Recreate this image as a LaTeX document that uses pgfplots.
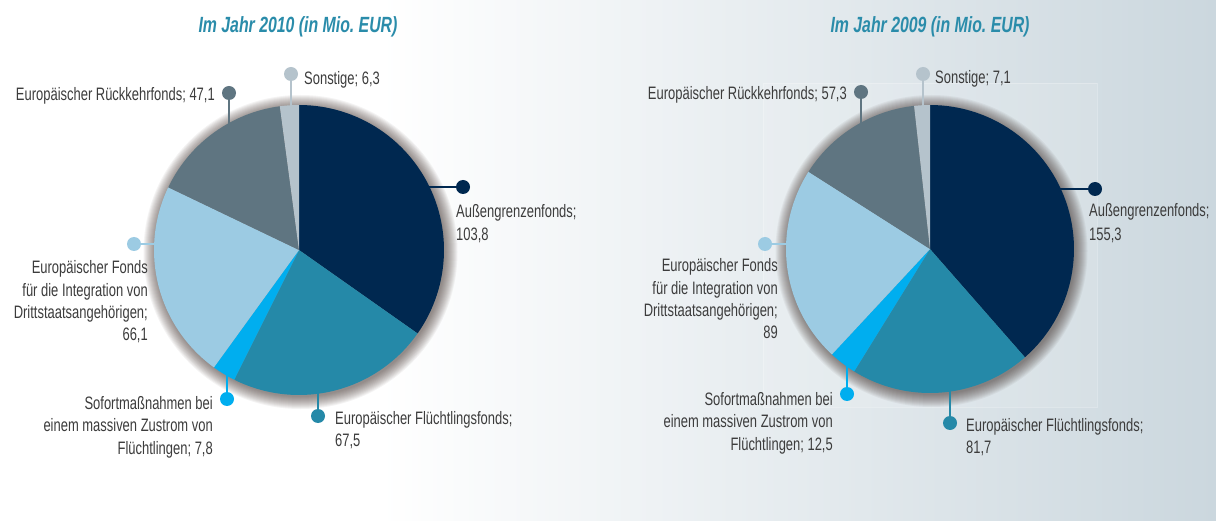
\documentclass[border=0pt]{standalone}
\usepackage{fontspec}
\setmainfont{Liberation Sans}[FakeStretch=0.72]
\usepackage{pgfplots}
\pgfplotsset{compat=1.18}

\definecolor{cA}{RGB}{0,40,80}      % Aussengrenzenfonds
\definecolor{cB}{RGB}{37,137,168}   % Fluechtlingsfonds
\definecolor{cC}{RGB}{0,174,239}    % Sofortmassnahmen
\definecolor{cD}{RGB}{156,203,227}  % Integration
\definecolor{cE}{RGB}{95,117,129}   % Rueckkehrfonds
\definecolor{cF}{RGB}{181,195,204}  % Sonstige
\definecolor{titlec}{RGB}{42,140,170}
\definecolor{txt}{RGB}{60,60,60}
\definecolor{bgR}{RGB}{203,215,222}
\definecolor{shd}{RGB}{60,45,40}

% values, 2010
\def\LA{103.8}\def\LB{67.5}\def\LC{7.8}\def\LD{66.1}\def\LE{47.1}\def\LF{6.3}
% values, 2009
\def\RA{155.3}\def\RB{81.7}\def\RC{12.5}\def\RD{89}\def\RE{57.3}\def\RF{7.1}

\pgfmathsetmacro\Lt{\LA+\LB+\LC+\LD+\LE+\LF}
\pgfmathsetmacro\La{90-\LA/\Lt*360}
\pgfmathsetmacro\Lb{90-(\LA+\LB)/\Lt*360}
\pgfmathsetmacro\Lc{90-(\LA+\LB+\LC)/\Lt*360}
\pgfmathsetmacro\Ld{90-(\LA+\LB+\LC+\LD)/\Lt*360}
\pgfmathsetmacro\Le{90-(\LA+\LB+\LC+\LD+\LE)/\Lt*360}
\pgfmathsetmacro\Rt{\RA+\RB+\RC+\RD+\RE+\RF}
\pgfmathsetmacro\Ra{90-\RA/\Rt*360}
\pgfmathsetmacro\Rb{90-(\RA+\RB)/\Rt*360}
\pgfmathsetmacro\Rc{90-(\RA+\RB+\RC)/\Rt*360}
\pgfmathsetmacro\Rd{90-(\RA+\RB+\RC+\RD)/\Rt*360}
\pgfmathsetmacro\Re{90-(\RA+\RB+\RC+\RD+\RE)/\Rt*360}

% #1 cx, #2 cy, #3 r, #4 start angle, #5 end angle (smaller), #6 colour
\newcommand\slice[6]{%
  \addplot[draw=none, fill=#6, domain=#5:#4, samples=60, variable=\t]
    ({#1+#3*cos(\t)},{#2-#3*sin(\t)}) -- (axis cs:#1,#2) -- cycle;}
% soft halo behind a pie: #1 cx, #2 cy, #3 r
\newcommand\halo[3]{%
  \pgfplotsinvokeforeach{1,...,13}{%
    \fill[shd, opacity=0.055] (axis cs:#1+1.5,#2+2) circle[radius=#3pt+##1pt];}}
\newcommand\lbfont{\fontsize{18}{22}\selectfont}
\newcommand\lab[4]{\node[anchor=#1, inner sep=0pt, font=\lbfont, text=txt] at (axis cs:#2,#3) {#4};}
\newcommand\lead[5]{%
  \draw[#1, line width=2pt] (axis cs:#2,#3) -- (axis cs:#4,#5);
  \fill[#1] (axis cs:#4,#5) circle[radius=7pt];}

\begin{document}
\begin{tikzpicture}
\begin{axis}[x=1pt, y=1pt, xmin=0, xmax=1216, ymin=0, ymax=521,
  y dir=reverse, hide axis, clip=false]
  % background
  \fill[white] (axis cs:0,0) rectangle (axis cs:1216,521);
  \shade[left color=white, right color=bgR] (axis cs:380,0) rectangle (axis cs:1216,521);
  \draw[white, opacity=0.25, fill=white, fill opacity=0.1] (axis cs:763,83) rectangle (axis cs:1097,407);

  % titles
  \node[anchor=base, inner sep=0pt, text=titlec, font=\fontsize{22}{26}\selectfont\bfseries\itshape]
    at (axis cs:298,33) {Im Jahr 2010 (in Mio.\ EUR)};
  \node[anchor=base, inner sep=0pt, text=titlec, font=\fontsize{22}{26}\selectfont\bfseries\itshape]
    at (axis cs:930,33) {Im Jahr 2009 (in Mio.\ EUR)};

  % ---- 2010 pie ----
  \halo{299}{250}{144}
  \slice{299}{250}{145}{90}{\La}{cA}
  \slice{299}{250}{145}{\La}{\Lb}{cB}
  \slice{299}{250}{145}{\Lb}{\Lc}{cC}
  \slice{299}{250}{145}{\Lc}{\Ld}{cD}
  \slice{299}{250}{145}{\Ld}{\Le}{cE}
  \slice{299}{250}{145}{\Le}{-270}{cF}

  \lead{cA}{428}{187}{463}{187}
  \lab{base west}{456}{218}{Außengrenzenfonds;}
  \lab{base west}{456}{241}{103,8}
  \lead{cB}{318}{392}{318}{416}
  \lab{base west}{335}{424}{Europäischer Flüchtlingsfonds;}
  \lab{base west}{335}{446}{67,5}
  \lead{cC}{227}{374}{227}{399}
  \lab{base east}{213}{409}{Sofortmaßnahmen bei}
  \lab{base east}{213}{431.5}{einem massiven Zustrom von}
  \lab{base east}{213}{454}{Flüchtlingen; 7,8}
  \lead{cD}{156}{244}{134}{244}
  \lab{base east}{148}{274}{Europäischer Fonds}
  \lab{base east}{148}{296.3}{für die Integration von}
  \lab{base east}{148}{318.7}{Drittstaatsangehörigen;}
  \lab{base east}{148}{341}{66,1}
  \lead{cE}{229}{125}{229}{93}
  \lab{base east}{215}{101}{Europäischer Rückkehrfonds; 47,1}
  \lead{cF}{291}{107}{291}{74}
  \lab{base west}{304}{85}{Sonstige; 6,3}

  % ---- 2009 pie ----
  \halo{930}{249}{143}
  \slice{930}{249}{144}{90}{\Ra}{cA}
  \slice{930}{249}{144}{\Ra}{\Rb}{cB}
  \slice{930}{249}{144}{\Rb}{\Rc}{cC}
  \slice{930}{249}{144}{\Rc}{\Rd}{cD}
  \slice{930}{249}{144}{\Rd}{\Re}{cE}
  \slice{930}{249}{144}{\Re}{-270}{cF}

  \lead{cA}{1059}{189}{1095}{189}
  \lab{base west}{1089}{217}{Außengrenzenfonds;}
  \lab{base west}{1089}{241}{155,3}
  \lead{cB}{950}{390}{950}{423}
  \lab{base west}{966}{431}{Europäischer Flüchtlingsfonds;}
  \lab{base west}{966}{453}{81,7}
  \lead{cC}{847}{365}{847}{394}
  \lab{base east}{833}{405}{Sofortmaßnahmen bei}
  \lab{base east}{833}{427.5}{einem massiven Zustrom von}
  \lab{base east}{833}{450}{Flüchtlingen; 12,5}
  \lead{cD}{787}{244}{765}{244}
  \lab{base east}{778}{272}{Europäischer Fonds}
  \lab{base east}{778}{294.3}{für die Integration von}
  \lab{base east}{778}{316.7}{Drittstaatsangehörigen;}
  \lab{base east}{778}{339}{89}
  \lead{cE}{861}{124}{861}{92}
  \lab{base east}{847}{100}{Europäischer Rückkehrfonds; 57,3}
  \lead{cF}{923}{107}{923}{74}
  \lab{base west}{935}{84}{Sonstige; 7,1}
\end{axis}
\end{tikzpicture}
\end{document}
